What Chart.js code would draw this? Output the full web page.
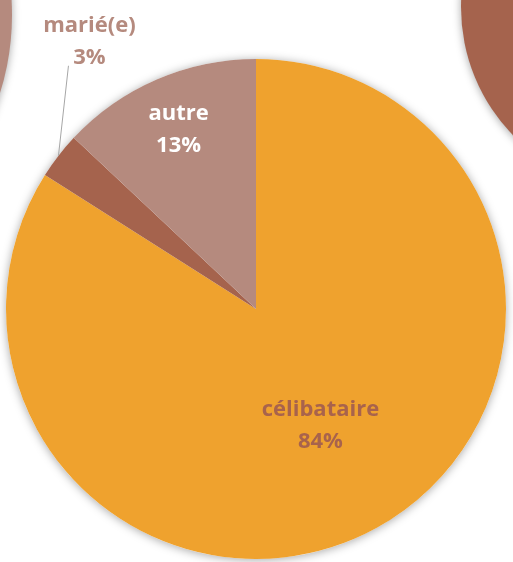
<!DOCTYPE html>
<html>
<head>
<meta charset="utf-8">
<script src="https://cdn.jsdelivr.net/npm/chart.js@4/dist/chart.umd.min.js"></script>
<style>
  html, body { margin: 0; padding: 0; background: #ffffff; overflow: hidden; }
  #wrap { position: relative; width: 513px; height: 562px; overflow: hidden; }
  .deco { position: absolute; border-radius: 50%; box-shadow: 0 1px 9px rgba(0,0,0,0.35); }
  #c { position: absolute; left: 0; top: 0; }
</style>
</head>
<body>
<div id="wrap">
  <div class="deco" style="left:-508px; top:-245px; width:520px; height:520px; background:#B58A7E;"></div>
  <div class="deco" style="left:461px; top:-177px; width:368px; height:368px; background:#A5634D;"></div>
  <canvas id="c" width="513" height="562"></canvas>
</div>
<script>
const categories = ['célibataire', 'marié(e)', 'autre'];
const values = [84, 3, 13];
const percentLabels = ['84%', '3%', '13%'];
const colors = ['#EFA22E', '#A5634D', '#B58A7E'];
const labelColors = ['#A8634C', '#B58A7E', '#FFFFFF'];

const FONT = 'bold 22px "Open Sans", Lato, sans-serif';

const shadowPlugin = {
  id: 'pieShadow',
  beforeDatasetsDraw(chart) {
    const arc = chart.getDatasetMeta(0).data[0];
    if (!arc) return;
    const ctx = chart.ctx;
    ctx.save();
    ctx.shadowColor = 'rgba(0,0,0,0.35)';
    ctx.shadowBlur = 10;
    ctx.shadowOffsetY = 1;
    ctx.fillStyle = '#ffffff';
    ctx.beginPath();
    ctx.arc(arc.x, arc.y, arc.outerRadius, 0, Math.PI * 2);
    ctx.fill();
    ctx.restore();
  }
};

const labelPlugin = {
  id: 'pieLabels',
  afterDatasetsDraw(chart) {
    const ctx = chart.ctx;
    const meta = chart.getDatasetMeta(0);
    ctx.save();
    ctx.font = FONT;
    ctx.textAlign = 'center';
    ctx.textBaseline = 'middle';
    meta.data.forEach((arc, i) => {
      const mid = (arc.startAngle + arc.endAngle) / 2;
      const cx = arc.x, cy = arc.y, R = arc.outerRadius;
      let x, y;
      if (i === 1) {
        const ex = cx + Math.cos(mid) * R;
        const ey = cy + Math.sin(mid) * R;
        const lx = ex + 10, ly = ey - 90;
        ctx.strokeStyle = '#A6A6A6';
        ctx.lineWidth = 1;
        ctx.beginPath();
        ctx.moveTo(ex, ey);
        ctx.lineTo(lx, ly);
        ctx.stroke();
        x = lx + 21; y = ly - 24;
      } else {
        const f = i === 0 ? 0.535 : 0.78;
        x = cx + Math.cos(mid) * R * f;
        y = cy + Math.sin(mid) * R * f;
      }
      ctx.fillStyle = labelColors[i];
      ctx.fillText(categories[i], x, y - 16);
      ctx.fillText(percentLabels[i], x, y + 16);
    });
    ctx.restore();
  }
};

new Chart(document.getElementById('c'), {
  type: 'pie',
  data: {
    labels: categories,
    datasets: [{
      data: values,
      backgroundColor: colors,
      borderWidth: 0
    }]
  },
  options: {
    responsive: false,
    animation: false,
    layout: { padding: { left: 6, right: 7, top: 59, bottom: 3 } },
    plugins: { legend: { display: false }, tooltip: { enabled: false } }
  },
  plugins: [shadowPlugin, labelPlugin]
});
</script>
</body>
</html>
